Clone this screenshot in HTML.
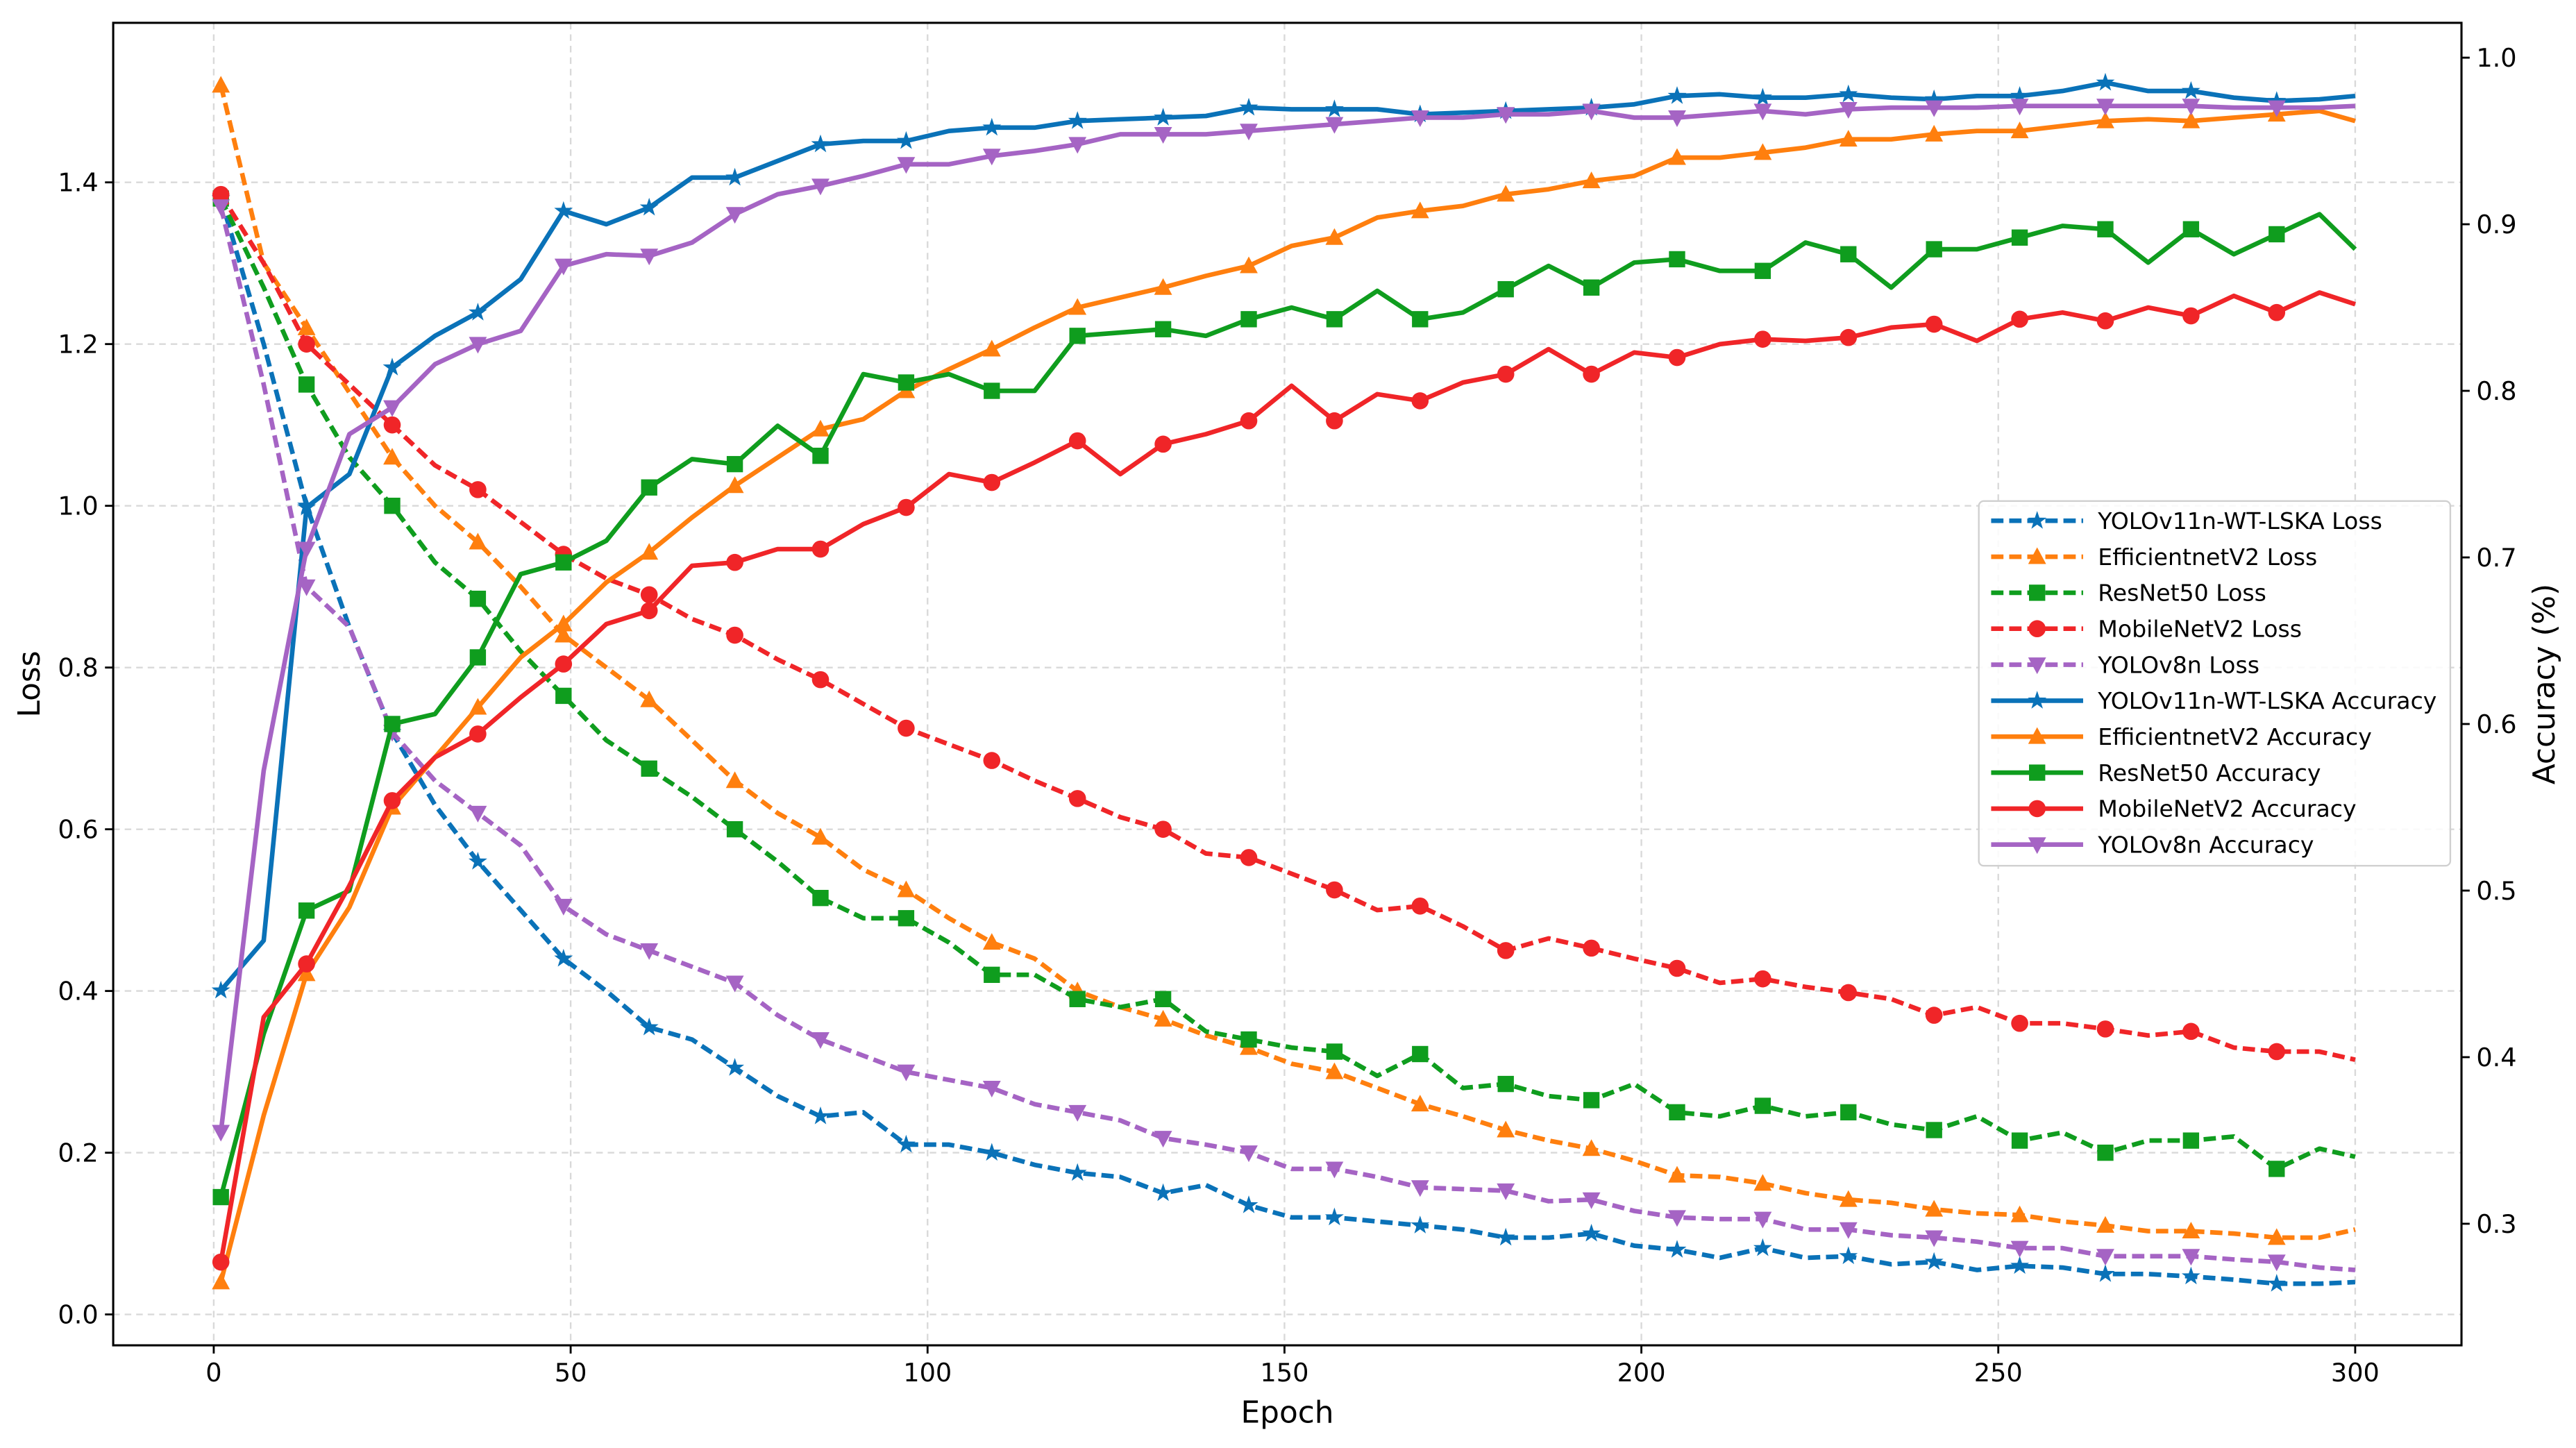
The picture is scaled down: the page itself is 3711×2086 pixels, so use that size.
<!DOCTYPE html>
<html><head><meta charset="utf-8"><style>
html,body{margin:0;padding:0;background:#fff;}
svg{display:block;font-family:"DejaVu Sans","Liberation Sans",sans-serif;}
</style></head><body>
<svg id="chart" width="3711" height="2086" viewBox="0 0 1568 881.4" xmlns="http://www.w3.org/2000/svg">
<rect width="1568" height="881.4" fill="#fff"/>
<g id="grid"></g><g id="series"></g><g id="axes"></g><g id="legend"></g>
</svg>
<script>
const epochs=[1,7,13,19,25,31,37,43,49,55,61,67,73,79,85,91,97,103,109,115,121,127,133,139,145,151,157,163,169,175,181,187,193,199,205,211,217,223,229,235,241,247,253,259,265,271,277,283,289,295,300];
const yoloWtLoss=[1.38,1.2,1.0,0.85,0.72,0.63,0.56,0.5,0.44,0.4,0.355,0.34,0.305,0.27,0.245,0.25,0.21,0.21,0.2,0.185,0.175,0.17,0.15,0.16,0.135,0.12,0.12,0.115,0.11,0.105,0.095,0.095,0.1,0.085,0.08,0.07,0.082,0.07,0.072,0.062,0.065,0.055,0.06,0.058,0.05,0.05,0.047,0.043,0.038,0.038,0.04];
const effLoss=[1.52,1.3,1.22,1.14,1.06,1.0,0.955,0.9,0.84,0.8,0.76,0.71,0.66,0.62,0.59,0.55,0.525,0.49,0.46,0.44,0.4,0.38,0.365,0.345,0.33,0.31,0.3,0.28,0.26,0.245,0.228,0.215,0.205,0.19,0.172,0.17,0.162,0.15,0.142,0.138,0.13,0.125,0.123,0.115,0.11,0.103,0.103,0.1,0.095,0.095,0.105];
const resLoss=[1.38,1.27,1.15,1.06,1.0,0.93,0.885,0.82,0.765,0.71,0.675,0.64,0.6,0.56,0.515,0.49,0.49,0.46,0.42,0.42,0.39,0.38,0.39,0.35,0.34,0.33,0.325,0.295,0.322,0.28,0.285,0.27,0.265,0.285,0.25,0.245,0.258,0.245,0.25,0.235,0.228,0.245,0.215,0.225,0.2,0.215,0.215,0.22,0.18,0.205,0.195];
const mobLoss=[1.385,1.3,1.2,1.15,1.1,1.05,1.02,0.98,0.94,0.91,0.89,0.86,0.84,0.81,0.785,0.755,0.725,0.705,0.685,0.66,0.638,0.615,0.6,0.57,0.565,0.545,0.525,0.5,0.505,0.48,0.45,0.465,0.453,0.44,0.428,0.41,0.415,0.405,0.398,0.39,0.37,0.38,0.36,0.36,0.353,0.345,0.35,0.33,0.325,0.325,0.315];
const v8Loss=[1.37,1.15,0.9,0.85,0.72,0.66,0.62,0.58,0.505,0.47,0.45,0.43,0.41,0.37,0.34,0.32,0.3,0.29,0.28,0.26,0.25,0.24,0.218,0.21,0.2,0.18,0.18,0.17,0.157,0.155,0.153,0.14,0.142,0.128,0.12,0.118,0.118,0.105,0.105,0.098,0.095,0.09,0.082,0.082,0.072,0.072,0.072,0.068,0.065,0.058,0.055];
const yoloWtAcc=[0.44,0.47,0.73,0.75,0.814,0.833,0.847,0.867,0.908,0.90,0.91,0.928,0.928,0.938,0.948,0.95,0.95,0.956,0.958,0.958,0.962,0.963,0.964,0.965,0.97,0.969,0.969,0.969,0.966,0.967,0.968,0.969,0.97,0.972,0.977,0.978,0.976,0.976,0.978,0.976,0.975,0.977,0.977,0.98,0.985,0.98,0.98,0.976,0.974,0.975,0.977];
const effAcc=[0.265,0.365,0.45,0.49,0.55,0.58,0.61,0.64,0.66,0.685,0.703,0.724,0.743,0.76,0.777,0.783,0.80,0.813,0.825,0.838,0.85,0.856,0.862,0.869,0.875,0.887,0.892,0.904,0.908,0.911,0.918,0.921,0.926,0.929,0.94,0.94,0.943,0.946,0.951,0.951,0.954,0.956,0.956,0.959,0.962,0.963,0.962,0.964,0.966,0.968,0.962];
const resAcc=[0.316,0.414,0.488,0.50,0.60,0.606,0.64,0.69,0.697,0.71,0.742,0.759,0.756,0.779,0.761,0.81,0.805,0.81,0.80,0.80,0.833,0.835,0.837,0.833,0.843,0.85,0.843,0.86,0.843,0.847,0.861,0.875,0.862,0.877,0.879,0.872,0.872,0.889,0.882,0.862,0.885,0.885,0.892,0.899,0.897,0.877,0.897,0.882,0.894,0.906,0.885];
const mobAcc=[0.277,0.424,0.456,0.503,0.554,0.58,0.594,0.616,0.636,0.66,0.668,0.695,0.697,0.705,0.705,0.72,0.73,0.75,0.745,0.757,0.77,0.75,0.768,0.774,0.782,0.803,0.782,0.798,0.794,0.805,0.81,0.825,0.81,0.823,0.82,0.828,0.831,0.83,0.832,0.838,0.84,0.83,0.843,0.847,0.842,0.85,0.845,0.857,0.847,0.859,0.852];
const v8Acc=[0.355,0.572,0.705,0.774,0.79,0.816,0.828,0.836,0.875,0.882,0.881,0.889,0.906,0.918,0.923,0.929,0.936,0.936,0.941,0.944,0.948,0.954,0.954,0.954,0.956,0.958,0.96,0.962,0.964,0.964,0.966,0.966,0.968,0.964,0.964,0.966,0.968,0.966,0.969,0.97,0.97,0.97,0.971,0.971,0.971,0.971,0.971,0.97,0.97,0.97,0.971];
const seriesNames=["YOLOv11n-WT-LSKA Loss","EfficientnetV2 Loss","ResNet50 Loss","MobileNetV2 Loss","YOLOv8n Loss","YOLOv11n-WT-LSKA Accuracy","EfficientnetV2 Accuracy","ResNet50 Accuracy","MobileNetV2 Accuracy","YOLOv8n Accuracy"];
const xTicks=[0,50,100,150,200,250,300];
const lossTicks=["0.0","0.2","0.4","0.6","0.8","1.0","1.2","1.4"];
const accTicks=["0.3","0.4","0.5","0.6","0.7","0.8","0.9","1.0"];

const L=68.9,R=1498.3,T=13.9,B=818.9;
const xs=e=>130.1+(e/300)*(1433.6-130.1);
const yl=v=>800.1-v*(800.1-111)/1.4;
const yr=v=>35.1+(1.0-v)*1014;
const NS="http://www.w3.org/2000/svg";
function mk(tag,attrs,parent){const el=document.createElementNS(NS,tag);for(const k in attrs)el.setAttribute(k,attrs[k]);parent.appendChild(el);return el;}
const grid=document.getElementById('grid'),axes=document.getElementById('axes'),ser=document.getElementById('series'),leg=document.getElementById('legend');

xTicks.forEach(t=>{const x=xs(t);
 const g=mk('line',{x1:x,x2:x,y1:T,y2:B,stroke:'#d9d9d9','stroke-width':1,'stroke-dasharray':'4,3'},grid);
 
 mk('line',{x1:x,x2:x,y1:B,y2:B+5,stroke:'#000','stroke-width':1.2},axes);
 const tx=mk('text',{x:x,y:B+22,'font-size':15.5,'text-anchor':'middle',fill:'#000'},axes);tx.textContent=t;
 });
lossTicks.forEach(t=>{const y=yl(parseFloat(t));
 const g=mk('line',{x1:L,x2:R,y1:y,y2:y,stroke:'#d9d9d9','stroke-width':1,'stroke-dasharray':'4,3'},grid);
 
 mk('line',{x1:L-5,x2:L,y1:y,y2:y,stroke:'#000','stroke-width':1.2},axes);
 const tx=mk('text',{x:L-9,y:y+5.5,'font-size':15.5,'text-anchor':'end',fill:'#000'},axes);tx.textContent=t;
 });
accTicks.forEach(t=>{const y=yr(parseFloat(t));
 mk('line',{x1:R,x2:R+5,y1:y,y2:y,stroke:'#000','stroke-width':1.2},axes);
 const tx=mk('text',{x:R+9,y:y+5.5,'font-size':15.5,'text-anchor':'start',fill:'#000'},axes);tx.textContent=t;
 });
const frame=mk('rect',{x:L,y:T,width:R-L,height:B-T,fill:'none',stroke:'#000','stroke-width':1.3},axes);

let t1=mk('text',{x:(L+R)/2,y:866,'font-size':18.5,'text-anchor':'middle'},axes);t1.textContent='Epoch';

let t2=mk('text',{x:24,y:(T+B)/2,'font-size':18.5,'text-anchor':'middle',transform:`rotate(-90 24 ${(T+B)/2})`},axes);t2.textContent='Loss';

let t3=mk('text',{x:1555,y:(T+B)/2,'font-size':18.5,'text-anchor':'middle',transform:`rotate(-90 1555 ${(T+B)/2})`},axes);t3.textContent='Accuracy (%)';


const colorsFix=['#0a72b8','#ff7f0e','#0f9d1e','#f02528','#a564c4'];
const markers=['star','tri','sq','circ','tridown'];
function marker(type,x,y,c,p){const s=5.2;
 if(type==='circ')return mk('circle',{cx:x,cy:y,r:s,fill:c},p);
 if(type==='sq')return mk('rect',{x:x-s*0.95,y:y-s*0.95,width:s*1.9,height:s*1.9,fill:c},p);
 if(type==='tri')return mk('polygon',{points:`${x},${y-s*1.1} ${x+s*1.05},${y+s*0.85} ${x-s*1.05},${y+s*0.85}`,fill:c},p);
 if(type==='tridown')return mk('polygon',{points:`${x},${y+s*1.1} ${x+s*1.05},${y-s*0.85} ${x-s*1.05},${y-s*0.85}`,fill:c},p);
 let pts=[];for(let i=0;i<10;i++){const r=i%2?s*0.45:s*1.15;const a=-Math.PI/2+i*Math.PI/5;pts.push((x+r*Math.cos(a)).toFixed(2)+','+(y+r*Math.sin(a)).toFixed(2));}
 return mk('polygon',{points:pts.join(' '),fill:c},p);}
const allSeries=[yoloWtLoss,effLoss,resLoss,mobLoss,v8Loss,yoloWtAcc,effAcc,resAcc,mobAcc,v8Acc];
allSeries.forEach((arr,i)=>{const isAcc=i>=5;const c=colorsFix[i%5];const ys=isAcc?yr:yl;
 const g=mk('g',{},ser);
 
 
 const d=arr.map((v,j)=>(j?'L':'M')+xs(epochs[j]).toFixed(2)+','+ys(v).toFixed(2)).join(' ');
 const attrs={d:d,fill:'none',stroke:c,'stroke-width':2.8,'stroke-linejoin':'round'};
 if(!isAcc)attrs['stroke-dasharray']='7.5,3.5';
 const p=mk('path',attrs,g);
 
 arr.forEach((v,j)=>{if((epochs[j]-1)%12===0){const m=marker(markers[i%5],xs(epochs[j]),ys(v),c,g);
  }});
});
const lb=mk('rect',{x:1204.5,y:305,width:287,height:222,rx:3,fill:'#fff','fill-opacity':0.85,stroke:'#d0d0d0','stroke-width':1},leg);

seriesNames.forEach((n,i)=>{const y=317+i*21.9;const c=colorsFix[i%5];const isAcc=i>=5;
 const g=mk('g',{},leg);
 
 const a={x1:1212,x2:1268,y1:y,y2:y,stroke:c,'stroke-width':2.8};if(!isAcc)a['stroke-dasharray']='7.5,3.5';
 mk('line',a,g);marker(markers[i%5],1240,y,c,g);
 const tx=mk('text',{x:1277,y:y+5,'font-size':14,fill:'#000'},g);tx.textContent=n;
});
</script>
</body></html>
